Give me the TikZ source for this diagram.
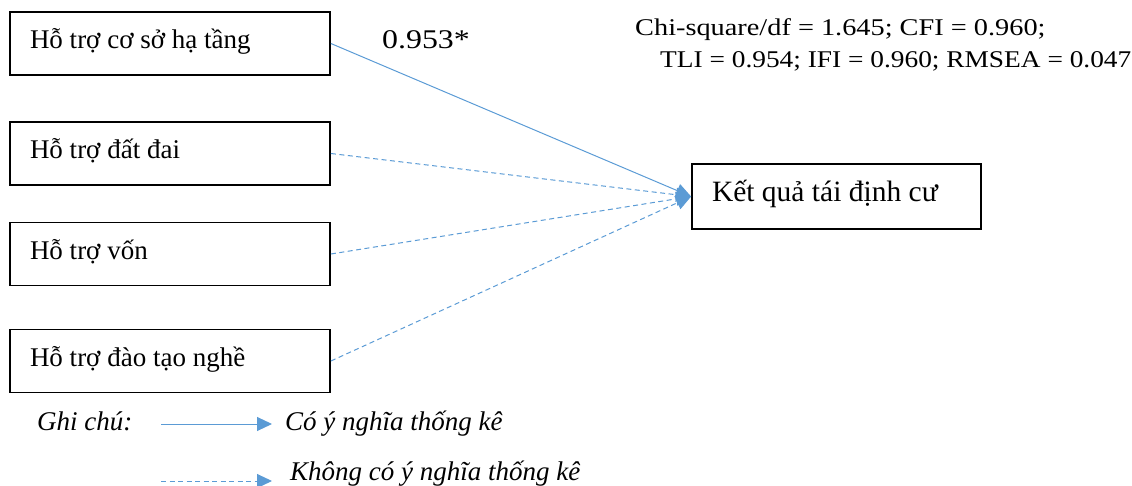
\documentclass[tikz,border=0pt]{standalone}
\usepackage{fontspec}
\usepackage{graphicx}
\setmainfont{Liberation Serif}
\usetikzlibrary{arrows.meta}
\definecolor{lineblue}{RGB}{91,155,213}
\tikzset{
  box/.style={draw=black, line width=1.8pt, minimum width=320pt, minimum height=63pt,
    text width=280pt, inner xsep=20pt, align=flush left, text height=20pt, text depth=9pt,
    font=\fontsize{27}{31}\selectfont},
  sig/.style={draw=lineblue, line width=1pt, -{Triangle[length=15pt,width=14pt]}},
  nonsig/.style={draw=lineblue, line width=1pt, dash pattern=on 5pt off 3.5pt,
    -{Triangle[length=15pt,width=14pt,sep=0pt]}},
  stat/.style={font=\fontsize{24}{28}\selectfont, inner sep=0pt, anchor=base west},
  note/.style={font=\fontsize{27}{31}\selectfont\itshape, inner sep=0pt, anchor=base west}
}
\begin{document}
\begin{tikzpicture}[x=1pt,y=-1pt]
\useasboundingbox (0,0) rectangle (1132,486);
\node[box] (b1) at (170,43.5) {Hỗ trợ cơ sở hạ tầng};
\node[box] (b2) at (170,153.5) {Hỗ trợ đất đai};
\node[box] (b3) at (170,254) {Hỗ trợ vốn};
\node[box] (b4) at (170,361) {Hỗ trợ đào tạo nghề};
\node[box, minimum width=289pt, text width=249pt, minimum height=65pt,
  font=\fontsize{29.5}{33}\selectfont] (kq) at (836.5,196.5) {Kết quả tái định cư};

\draw[sig] (b1.east) -- (kq.west);
\draw[nonsig] (b2.east) -- (kq.west);
\draw[nonsig] (b3.east) -- (kq.west);
\draw[nonsig] (b4.east) -- (kq.west);

\node[stat, font=\fontsize{27}{31}\selectfont] (coef) at (382,49) {\scalebox{1.18}[1]{0.953*}};
\node[stat] (s1) at (635,36) {\scalebox{1.18}[1]{Chi-square/df = 1.645; CFI = 0.960;}};
\node[stat] (s2) at (660,68) {\scalebox{1.14}[1]{TLI = 0.954; IFI = 0.960; RMSEA = 0.047}};

\node[note] (gc) at (37,430) {Ghi chú:};
\coordinate (l1s) at (161,424);
\coordinate (l1e) at (272,424);
\draw[sig] (l1s) -- (l1e);
\node[note] (n1) at (285,430) {Có ý nghĩa thống kê};
\coordinate (l2s) at (161,481);
\coordinate (l2e) at (272,481);
\draw[nonsig] (l2s) -- (l2e);
\node[note] (n2) at (290,480) {Không có ý nghĩa thống kê};
\end{tikzpicture}
\end{document}
